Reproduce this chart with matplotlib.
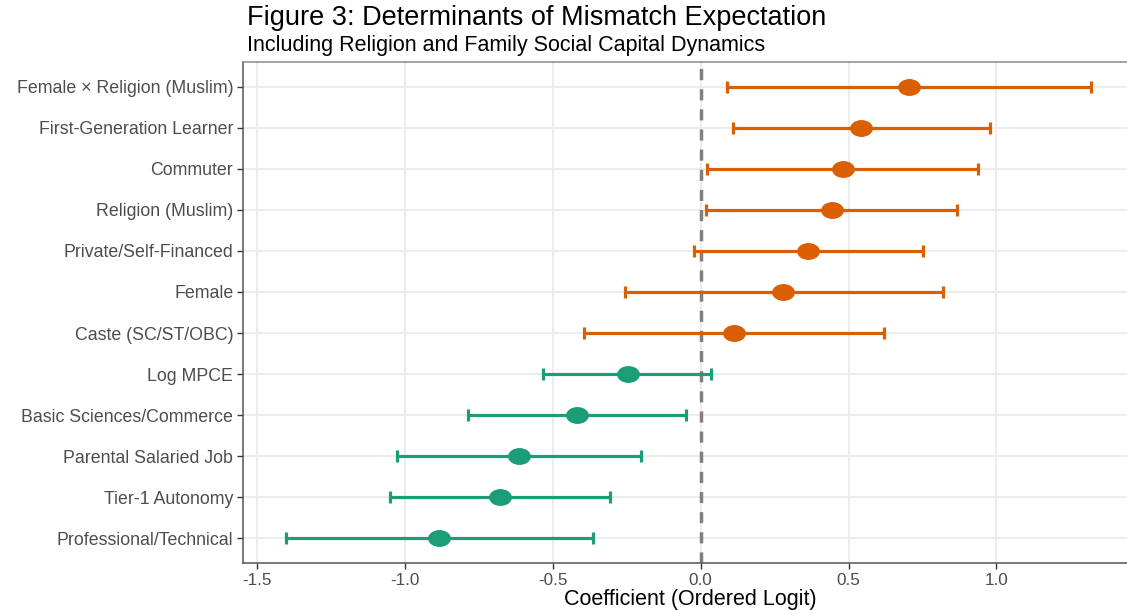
import numpy as np
import matplotlib.pyplot as plt
from matplotlib.path import Path

# variables listed bottom-to-top (as drawn)
terms = [
    "Professional/Technical",
    "Tier-1 Autonomy",
    "Parental Salaried Job",
    "Basic Sciences/Commerce",
    "Log MPCE",
    "Caste (SC/ST/OBC)",
    "Female",
    "Private/Self-Financed",
    "Religion (Muslim)",
    "Commuter",
    "First-Generation Learner",
    "Female \u00d7 Religion (Muslim)",
]
estimate = [-0.884, -0.679, -0.614, -0.418, -0.247, 0.111, 0.279, 0.364, 0.445, 0.480, 0.543, 0.703]
conf_low = [-1.403, -1.051, -1.026, -0.786, -0.535, -0.395, -0.257, -0.021, 0.019, 0.023, 0.108, 0.090]
conf_high = [-0.364, -0.306, -0.201, -0.051, 0.036, 0.620, 0.819, 0.752, 0.868, 0.937, 0.980, 1.320]

xticks = [-1.5, -1.0, -0.5, 0.0, 0.5, 1.0]

POS = "#D95F02"
NEG = "#1B9E77"

plt.rcParams['font.family'] = ['Liberation Sans', 'DejaVu Sans']

fig = plt.figure(figsize=(11.27, 6.10), dpi=100)
ax = fig.add_axes([243 / 1127, 47 / 610, 1 - 243 / 1127 + 0.01, (563 - 62) / 610])

# slightly flattened marker, the original is stretched horizontally
circ = Path.unit_circle()
ellipse = Path(circ.vertices * np.array([1.0, 0.74]), circ.codes)

y = np.arange(1, len(terms) + 1)
for yi, est, lo, hi in zip(y, estimate, conf_low, conf_high):
    col = POS if est > 0 else NEG
    ax.errorbar(est, yi, xerr=[[est - lo], [hi - est]], fmt="none",
                ecolor=col, elinewidth=2.3, capsize=4, capthick=2.3, zorder=3)
    ax.scatter(est, yi, s=270, marker=ellipse, color=col, linewidths=0, zorder=4)

ax.axvline(0, color="#808080", lw=2.5, ls=(0, (3.2, 2.6)), zorder=2)

ax.set_xlim(-1.548, 1.48)
ax.set_ylim(0.4, len(terms) + 0.6)
ax.set_yticks(y)
ax.set_yticklabels(terms, fontsize=12.8, color="#4d4d4d")
ax.set_xticks(xticks)
ax.set_xticklabels([f"{t:.1f}" for t in xticks], fontsize=12.3, color="#4d4d4d")
ax.tick_params(axis="both", length=4, width=1, color="#333333", pad=3)

ax.grid(True, color="#ebebeb", lw=1.3, zorder=0)
ax.set_axisbelow(True)
for side in ["top", "left", "bottom"]:
    ax.spines[side].set_color("#555555")
    ax.spines[side].set_linewidth(1.1)
ax.spines["top"].set_color("#8a8a8a")
ax.spines["right"].set_visible(False)

ax.set_xlabel("Coefficient (Ordered Logit)", fontsize=15.5, color="black", labelpad=1)

fig.text(247 / 1127, 1 - 18 / 610, "Figure 3: Determinants of Mismatch Expectation",
         fontsize=19.5, va="center", ha="left")
fig.text(247 / 1127, 1 - 46 / 610, "Including Religion and Family Social Capital Dynamics",
         fontsize=15.5, va="center", ha="left")

fig.savefig("out.png", dpi=100)
